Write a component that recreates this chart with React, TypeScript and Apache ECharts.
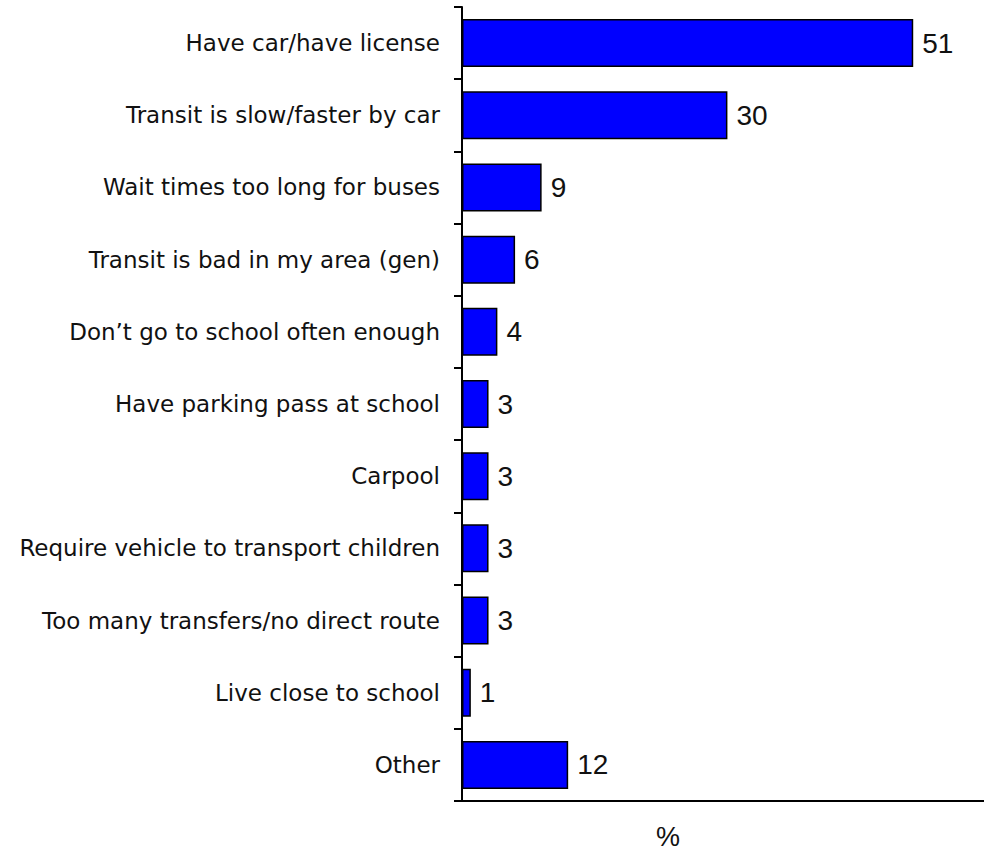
import React, { useEffect, useRef } from "react";
import * as echarts from "echarts";

const categories = [
  "Have car/have license",
  "Transit is slow/faster by car",
  "Wait times too long for buses",
  "Transit is bad in my area (gen)",
  "Don’t go to school often enough",
  "Have parking pass at school",
  "Carpool",
  "Require vehicle to transport children",
  "Too many transfers/no direct route",
  "Live close to school",
  "Other",
];
const values = [51, 30, 9, 6, 4, 3, 3, 3, 3, 1, 12];
const axisName = "%";

export default function App() {
  const ref = useRef<HTMLDivElement>(null);
  useEffect(() => {
    if (!ref.current) return;
    const chart = echarts.init(ref.current, undefined, { renderer: "svg" });
    chart.setOption({
      animation: false,
      grid: { left: 462, top: 7, right: 0, height: 794, containLabel: false },
      xAxis: {
        type: "value",
        min: 0,
        max: 59,
        axisLine: { show: true, lineStyle: { color: "#000", width: 2 } },
        axisTick: { show: false },
        axisLabel: { show: false },
        splitLine: { show: false },
      },
      yAxis: {
        type: "category",
        data: categories,
        inverse: true,
        axisLine: { show: true, lineStyle: { color: "#000", width: 2 } },
        axisTick: { show: true, length: 8, lineStyle: { color: "#000", width: 2 } },
        axisLabel: {
          margin: 22,
          color: "#111",
          fontFamily: "DejaVu Sans",
          fontSize: 23,
        },
      },
      graphic: [
        {
          type: "text",
          left: 656,
          top: 823,
          style: { text: axisName, fill: "#111", font: "27px 'Liberation Sans'" },
        },
      ],
      series: [
        {
          type: "bar",
          data: values,
          barWidth: 48,
          itemStyle: { color: "#0000FF", borderColor: "#000", borderWidth: 1.5 },
          label: {
            show: true,
            position: "right",
            distance: 9,
            color: "#111",
            fontFamily: "Liberation Sans",
            fontSize: 28,
          },
        },
      ],
    });
    return () => chart.dispose();
  }, []);
  return (
    <div
      ref={ref}
      style={{ position: "fixed", left: 0, top: 0, width: 984, height: 853, background: "#fff" }}
    />
  );
}
